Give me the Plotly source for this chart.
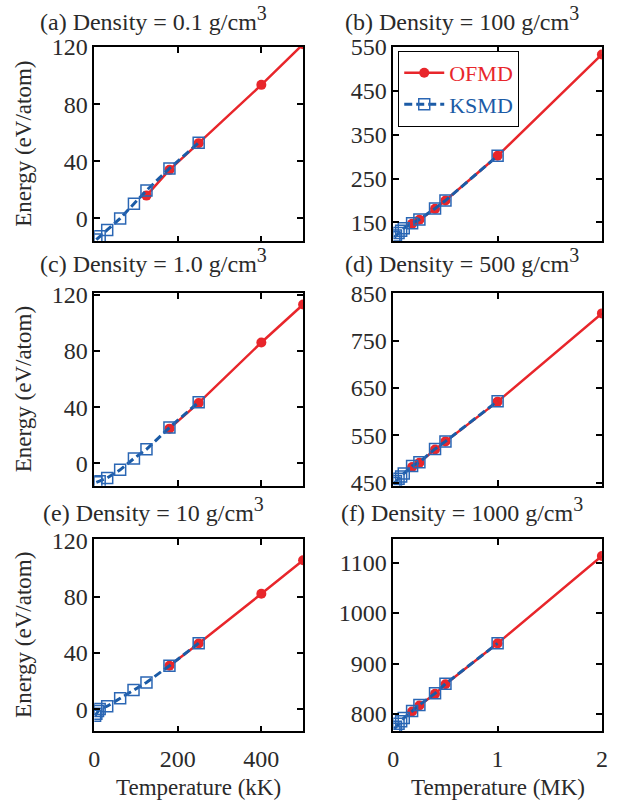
import plotly.graph_objects as go

# ---------------- data ----------------
T_kK_ofmd_a = [125, 180, 250, 400, 500]
T_kK_ofmd_ce = [180, 250, 400, 500]
T_kK_ksmd = [5, 13, 31, 62, 95, 125, 180, 250]
T_kK_ksmd_e = [2, 5, 9, 13, 31, 62, 94, 125, 180, 250]
T_MK_ofmd = [0.18, 0.25, 0.4, 0.5, 1.0, 2.0]
T_MK_ksmd = [0.01, 0.025, 0.05, 0.075, 0.1, 0.18, 0.25, 0.4, 0.5, 1.0]

E_ofmd_a = [16, 34, 52.7, 93.5, 122]
E_ksmd_a = [-14.8, -12.5, -8, 0, 10.2, 19.6, 35, 53]
E_ofmd_c = [24.7, 43, 86, 113]
E_ksmd_c = [-13.5, -12.7, -10.4, -4.6, 3.5, 10, 25.5, 43.5]
E_ofmd_e = [31, 46.7, 82, 105.8]
E_ksmd_e = [-4.5, -3, -1.2, 0.3, 2.3, 7.9, 13.8, 19.1, 31, 47]

E_ofmd_b = [147, 156, 181, 200, 302, 533]
E_ksmd_b = [116, 120, 126, 131, 137, 148, 157, 182, 200, 302]
E_ofmd_d = [483, 492, 520, 537, 621, 807.5]
E_ksmd_d = [449, 453, 458, 463, 469, 485, 493, 521, 537, 622]
E_ofmd_f = [805, 817, 840, 859, 940, 1113]
E_ksmd_f = [771, 775, 781, 786, 792, 806, 818, 841, 860, 940]

titles = ["(a) Density = 0.1 g/cm", "(b) Density = 100 g/cm",
          "(c) Density = 1.0 g/cm", "(d) Density = 500 g/cm",
          "(e) Density = 10 g/cm", "(f) Density = 1000 g/cm"]
xtitles = ["Temperature (kK)", "Temperature (MK)"]
ytitle = "Energy (eV/atom)"

RED = "#E8262B"
BLUE = "#1B5BA6"
FONT = "Times New Roman, Liberation Serif, serif"
FS = 24
TXT = "#2a2a2a"
W, H = 618, 808

panels = [
    # (T_of, E_of, T_ks, E_ks, xrange, yrange, ytick0, dtick)
    (T_kK_ofmd_a, E_ofmd_a, T_kK_ksmd, E_ksmd_a, [0, 500], [-16, 120], 0, 40),
    (T_MK_ofmd, E_ofmd_b, T_MK_ksmd, E_ksmd_b, [0, 2], [107, 550], 150, 100),
    (T_kK_ofmd_ce, E_ofmd_c, T_kK_ksmd, E_ksmd_c, [0, 500], [-16, 121], 0, 40),
    (T_MK_ofmd, E_ofmd_d, T_MK_ksmd, E_ksmd_d, [0, 2], [443, 850], 450, 100),
    (T_kK_ofmd_ce, E_ofmd_e, T_kK_ksmd_e, E_ksmd_e, [0, 500], [-15.5, 120.7], 0, 40),
    (T_MK_ofmd, E_ofmd_f, T_MK_ksmd, E_ksmd_f, [0, 2], [766, 1146], 800, 100),
]

# pixel layout
col_x = [(90, 303), (395, 607.7)]
row_y = [(35, 235), (288.5, 486.7), (541.7, 739.3)]

fig = go.Figure()
layout = {}
for i, (To, Eo, Tk, Ek, xr, yr, t0, dt) in enumerate(panels):
    r, c = divmod(i, 2)
    n = "" if i == 0 else str(i + 1)
    xa, ya = "x" + n, "y" + n
    fig.add_trace(go.Scatter(
        x=To, y=Eo, mode="lines+markers", xaxis=xa, yaxis=ya,
        name='<span style="color:%s">OFMD</span>' % RED, legendgroup="g",
        showlegend=(i == 0),
        line=dict(color=RED, width=2.5),
        marker=dict(symbol="circle", size=10, color=RED)))
    fig.add_trace(go.Scatter(
        x=Tk, y=Ek, mode="lines+markers", xaxis=xa, yaxis=ya,
        name='<span style="color:%s">KSMD</span>' % BLUE, legendgroup="g",
        showlegend=(i == 0),
        line=dict(color=BLUE, width=3, dash="8px,4px"),
        marker=dict(symbol="square-open", size=11, color="#2A66B4",
                    line=dict(width=1.5, color="#2A66B4"))))
    x0, x1 = col_x[c]
    y0, y1 = row_y[r]
    axcommon = dict(showline=True, linecolor="black", linewidth=1.5, mirror="ticks",
                    ticks="inside", ticklen=6, tickwidth=1.5, tickcolor="black",
                    showgrid=False, zeroline=False,
                    tickfont=dict(family=FONT, size=FS, color=TXT))
    layout["xaxis" + n] = dict(
        axcommon, domain=[x0 / W, x1 / W], anchor=ya, range=xr,
        tick0=0, dtick=(200 if c == 0 else 1), showticklabels=(r == 2),
        ticklabelstandoff=5)
    layout["yaxis" + n] = dict(
        axcommon, domain=[1 - y1 / H, 1 - y0 / H], anchor=xa, range=yr,
        tick0=t0, dtick=dt)

annotations = []
title_cx = [150, 465]
title_bottom = [25, 274, 530]
for i, t in enumerate(titles):
    r, c = divmod(i, 2)
    annotations.append(dict(
        text=t + '<sup><span style="font-size:20px">3</span></sup>',
        x=title_cx[c] / W, y=1 - title_bottom[r] / H, xref="paper", yref="paper",
        xanchor="center", yanchor="bottom", showarrow=False,
        font=dict(family=FONT, size=FS, color=TXT)))
# y-axis titles (left column)
for r in range(3):
    y0, y1 = row_y[r]
    annotations.append(dict(
        text=ytitle, textangle=-90, x=18 / W, y=1 - (y0 + y1) / 2 / H,
        xref="paper", yref="paper", xanchor="center", yanchor="middle",
        showarrow=False, font=dict(family=FONT, size=23, color=TXT)))
# x-axis titles (bottom row)
for c in range(2):
    x0, x1 = col_x[c]
    annotations.append(dict(
        text=xtitles[c], x=(x0 + x1) / 2 / W, y=1 - 797 / H,
        xref="paper", yref="paper", xanchor="center", yanchor="middle",
        showarrow=False, font=dict(family=FONT, size=23, color=TXT)))

fig.update_layout(
    **layout,
    width=W, height=H,
    margin=dict(l=0, r=0, t=0, b=0),
    paper_bgcolor="white", plot_bgcolor="white",
    annotations=annotations,
    legend=dict(x=400 / W, y=1 - 39 / H, xanchor="left", yanchor="top",
                bgcolor="white", bordercolor="black", borderwidth=1,
                font=dict(family=FONT, size=22), tracegroupgap=0,
                itemwidth=40),
    font=dict(family=FONT),
)

fig.write_html("out.html")
